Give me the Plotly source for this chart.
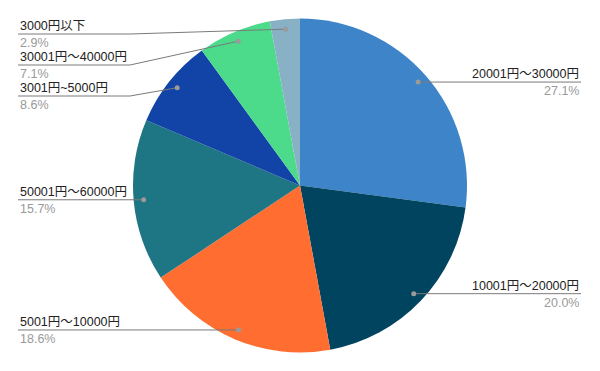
import math
import plotly.graph_objects as go

# ---- data ----
categories = ["20001円～30000円", "10001円～20000円", "5001円～10000円",
              "50001円～60000円", "3001円~5000円", "30001円～40000円", "3000円以下"]
values = [27.1, 20.0, 18.6, 15.7, 8.6, 7.1, 2.9]
pct_labels = ["27.1%", "20.0%", "18.6%", "15.7%", "8.6%", "7.1%", "2.9%"]

# ---- styles / layout ----
colors = ["#3d84c8", "#00445f", "#ff6d31", "#1e7583", "#1243a7", "#4cdb8b", "#89b1c6"]
W, H = 600, 371
CX, CY, R = 300, 185.5, 167
DOT_FRAC = 0.94
DOT_R = 2.5
LEFT_X, RIGHT_X, ELBOW_L = 18, 581, 130
label_line_override = [None, None, None, None, 96, 65, 34]
FONT = "Arial, 'Liberation Sans', 'Noto Sans CJK JP', sans-serif"

fig = go.Figure()
fig.add_trace(go.Pie(
    labels=categories, values=values, sort=False, direction="clockwise", rotation=0,
    marker=dict(colors=colors, line=dict(width=0)),
    textinfo="none", hoverinfo="label+percent", showlegend=False,
    domain=dict(x=[(CX - R) / W, (CX + R) / W], y=[(H - CY - R) / H, (H - CY + R) / H]),
))

total = sum(values)
cum = 0.0
annotations = []
shapes = []
for i, (cat, v) in enumerate(zip(categories, values)):
    mid = (cum + v / 2) / total * 2 * math.pi
    cum += v
    dx = CX + DOT_FRAC * R * math.sin(mid)
    dy = CY - DOT_FRAC * R * math.cos(mid)
    right = math.sin(mid) > 0
    ly = label_line_override[i] if label_line_override[i] is not None else dy
    if right:
        pts = [(dx, dy), (RIGHT_X, ly)]
        tx, anchor = RIGHT_X, "right"
    else:
        pts = [(dx, dy), (ELBOW_L, ly), (LEFT_X, ly)]
        tx, anchor = LEFT_X, "left"
    path = "M " + " L ".join(f"{px:.2f},{py:.2f}" for px, py in pts)
    shapes.append(dict(type="path", path=path, xref="x", yref="y", layer="above",
                       line=dict(color="#7a7a7a", width=1)))
    shapes.append(dict(type="circle", xref="x", yref="y", layer="above",
                       x0=dx - DOT_R, x1=dx + DOT_R, y0=dy - DOT_R, y1=dy + DOT_R,
                       fillcolor="#9a9a9a", line=dict(width=0)))
    annotations.append(dict(x=tx, y=ly - 8, xref="x", yref="y", text=cat, showarrow=False,
                            xanchor=anchor, yanchor="middle",
                            font=dict(family=FONT, size=12.5, color="#222222")))
    annotations.append(dict(x=tx, y=ly + 9, xref="x", yref="y", text=pct_labels[i], showarrow=False,
                            xanchor=anchor, yanchor="middle",
                            font=dict(family=FONT, size=12.5, color="#999999")))

fig.update_layout(
    width=W, height=H, margin=dict(l=0, r=0, t=0, b=0),
    paper_bgcolor="white", plot_bgcolor="rgba(0,0,0,0)",
    xaxis=dict(range=[0, W], visible=False, fixedrange=True),
    yaxis=dict(range=[H, 0], visible=False, fixedrange=True),
    annotations=annotations, shapes=shapes,
)
fig.write_html("out.html", config={"displayModeBar": False},
               post_script="document.body.style.margin='0px';")
